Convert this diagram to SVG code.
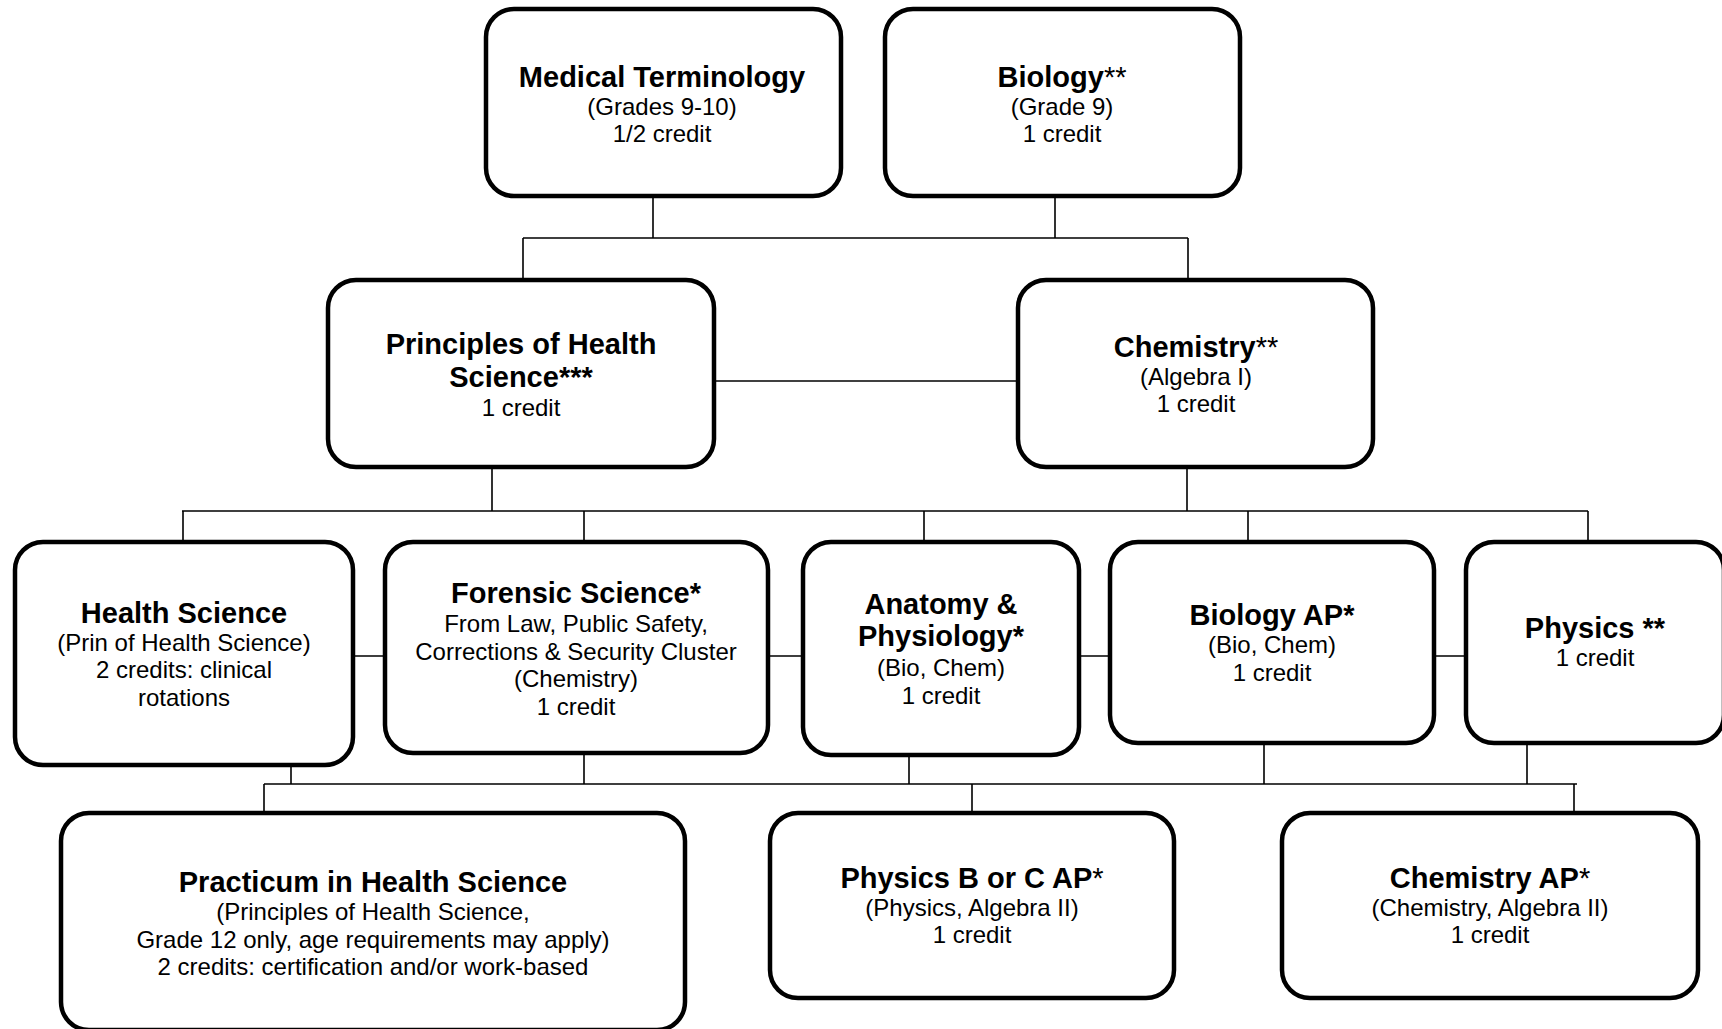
<svg xmlns="http://www.w3.org/2000/svg" width="1722" height="1029" viewBox="0 0 1722 1029">
<style>
.box{fill:#fff;stroke:#000;stroke-width:4.5}
.conn path{stroke:#000;stroke-width:1.6;fill:none}
text{font-family:"Liberation Sans",Arial,sans-serif;text-anchor:middle;fill:#000}
.b{font-weight:bold;font-size:29px}
.r{font-size:24px}
.a{font-weight:normal}
</style>
<rect width="1722" height="1029" fill="#fff"/>
<g class="conn" id="connectors">
<path d="M653,198V238M1055,198V238M523,238H1188M523,238V278M1188,238V278"/>
<path d="M716,381H1017"/>
<path d="M492,469V511M1187,469V511M182,511H1588"/>
<path d="M183,511V540M584,511V540M924,511V540M1248,511V540M1588,511V540"/>
<path d="M355,656H383M770,656H801M1081,656H1108M1436,656H1464"/>
<path d="M291,767V784M584,755V784M909,757V784M1264,745V784M1527,745V784M264,784H1577"/>
<path d="M264,784V811M972,784V811M1574,784V811"/>
</g>
<g id="medical-terminology">
<rect class="box" x="486" y="9" width="355" height="187" rx="28"/>
<text class="b" x="662" y="87">Medical Terminology</text>
<text class="r" x="662" y="114.5">(Grades 9-10)</text>
<text class="r" x="662" y="141.5">1/2 credit</text>
</g>
<g id="biology">
<rect class="box" x="885" y="9" width="355" height="187" rx="28"/>
<text class="b" x="1062" y="87">Biology<tspan class="a">**</tspan></text>
<text class="r" x="1062" y="114.5">(Grade 9)</text>
<text class="r" x="1062" y="141.5">1 credit</text>
</g>
<g id="principles-health-science">
<rect class="box" x="328" y="280" width="386" height="187" rx="28"/>
<text class="b" x="521" y="354">Principles of Health</text>
<text class="b" x="521" y="387">Science***</text>
<text class="r" x="521" y="416">1 credit</text>
</g>
<g id="chemistry">
<rect class="box" x="1018" y="280" width="355" height="187" rx="28"/>
<text class="b" x="1196" y="357">Chemistry<tspan class="a">**</tspan></text>
<text class="r" x="1196" y="384.5">(Algebra I)</text>
<text class="r" x="1196" y="411.5">1 credit</text>
</g>
<g id="health-science">
<rect class="box" x="15" y="542" width="338" height="223" rx="28"/>
<text class="b" x="184" y="623">Health Science</text>
<text class="r" x="184" y="650.5">(Prin of Health Science)</text>
<text class="r" x="184" y="678">2 credits: clinical</text>
<text class="r" x="184" y="705.5">rotations</text>
</g>
<g id="forensic-science">
<rect class="box" x="385" y="542" width="383" height="211" rx="28"/>
<text class="b" x="576" y="603">Forensic Science*</text>
<text class="r" x="576" y="632">From Law, Public Safety,</text>
<text class="r" x="576" y="659.5">Corrections &amp; Security Cluster</text>
<text class="r" x="576" y="687">(Chemistry)</text>
<text class="r" x="576" y="714.5">1 credit</text>
</g>
<g id="anatomy-physiology">
<rect class="box" x="803" y="542" width="276" height="213" rx="28"/>
<text class="b" x="941" y="614">Anatomy &amp;</text>
<text class="b" x="941" y="646">Physiology*</text>
<text class="r" x="941" y="676">(Bio, Chem)</text>
<text class="r" x="941" y="703.5">1 credit</text>
</g>
<g id="biology-ap">
<rect class="box" x="1110" y="542" width="324" height="201" rx="28"/>
<text class="b" x="1272" y="625">Biology AP*</text>
<text class="r" x="1272" y="653">(Bio, Chem)</text>
<text class="r" x="1272" y="681">1 credit</text>
</g>
<g id="physics">
<rect class="box" x="1466" y="542" width="258" height="201" rx="28"/>
<text class="b" x="1595" y="638">Physics **</text>
<text class="r" x="1595" y="666">1 credit</text>
</g>
<g id="practicum-health-science">
<rect class="box" x="61" y="813" width="624" height="217" rx="28"/>
<text class="b" x="373" y="892">Practicum in Health Science</text>
<text class="r" x="373" y="920">(Principles of Health Science,</text>
<text class="r" x="373" y="947.5">Grade 12 only, age requirements may apply)</text>
<text class="r" x="373" y="975">2 credits: certification and/or work-based</text>
</g>
<g id="physics-b-c-ap">
<rect class="box" x="770" y="813" width="404" height="185" rx="28"/>
<text class="b" x="972" y="888">Physics B or C AP<tspan class="a">*</tspan></text>
<text class="r" x="972" y="915.5">(Physics, Algebra II)</text>
<text class="r" x="972" y="943">1 credit</text>
</g>
<g id="chemistry-ap">
<rect class="box" x="1282" y="813" width="416" height="185" rx="28"/>
<text class="b" x="1490" y="888">Chemistry AP<tspan class="a">*</tspan></text>
<text class="r" x="1490" y="915.5">(Chemistry, Algebra II)</text>
<text class="r" x="1490" y="943">1 credit</text>
</g>
</svg>
